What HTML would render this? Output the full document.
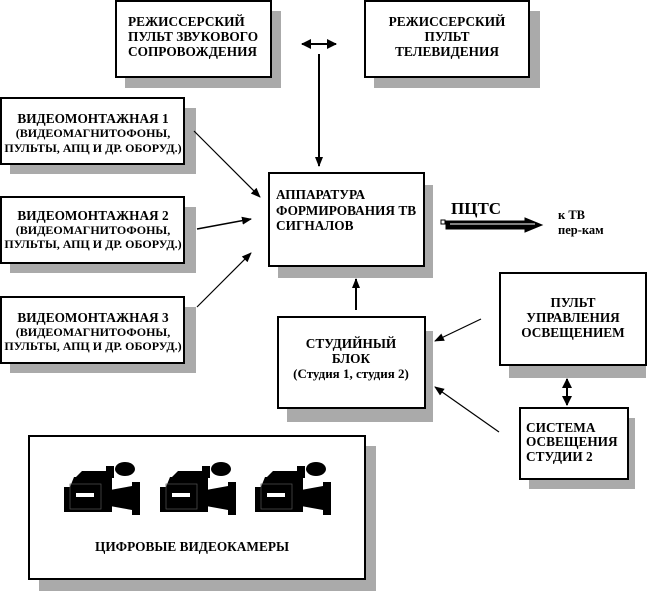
<!DOCTYPE html>
<html><head><meta charset="utf-8"><style>
html,body{margin:0;padding:0;background:#fff;}
svg text{font-family:"Liberation Serif","Noto Serif CJK SC",serif;font-weight:bold;font-size:13.3px;fill:#000;}
</style></head><body>
<svg width="656" height="591" viewBox="0 0 656 591" xmlns="http://www.w3.org/2000/svg">
<defs>
<marker id="ah" markerWidth="10" markerHeight="10" refX="9" refY="5" orient="auto" markerUnits="userSpaceOnUse">
<path d="M0,1 L10,5 L0,9 Z" fill="#000"/></marker>
<marker id="ah2" markerWidth="10" markerHeight="10" refX="9" refY="5" orient="auto-start-reverse" markerUnits="userSpaceOnUse">
<path d="M0,0 L10,5 L0,10 Z" fill="#000"/></marker>
<g id="cam">
<path d="M12,17 L50,17 L50,52 L2,52 L2,27 L8,27 Z" fill="#000"/>
<path d="M14,17 L20,11 L48,11 L50,17 Z" fill="#000"/>
<rect x="44" y="6" width="8" height="12" fill="#000"/>
<ellipse cx="63" cy="9" rx="10" ry="7" fill="#000"/>
<path d="M48,30 L70,26 L70,22 L78,22 L78,55 L70,55 L70,50 L48,46 Z" fill="#000"/>
<rect x="8" y="24" width="31" height="25" fill="none" stroke="#555" stroke-width="0.7"/>
<rect x="14" y="33" width="18" height="4" fill="#fff"/>
</g>
</defs>
<g fill="#aaa">
<rect x="125" y="11" width="156" height="77"/>
<rect x="374" y="11" width="166" height="77"/>
<rect x="10" y="108" width="186" height="66"/>
<rect x="10" y="207" width="186" height="66"/>
<rect x="10" y="307" width="186" height="66"/>
<rect x="278" y="185" width="155" height="93"/>
<rect x="287" y="331" width="146" height="91"/>
<rect x="509" y="283" width="137" height="95"/>
<rect x="529" y="418" width="106" height="71"/>
<rect x="39" y="446" width="337" height="145"/>
</g>
<g fill="#fff" stroke="#000" stroke-width="2">
<rect x="116" y="1" width="155" height="76"/>
<rect x="365" y="1" width="164" height="76"/>
<rect x="1" y="98" width="183" height="66"/>
<rect x="1" y="197" width="183" height="66"/>
<rect x="1" y="297" width="183" height="66"/>
<rect x="269" y="173" width="155" height="93"/>
<rect x="278" y="317" width="147" height="91"/>
<rect x="500" y="273" width="146" height="92"/>
<rect x="520" y="408" width="108" height="71"/>
<rect x="29" y="436" width="336" height="143"/>
</g>
<text x="128" y="26">РЕЖИССЕРСКИЙ</text>
<text x="128" y="41">ПУЛЬТ ЗВУКОВОГО</text>
<text x="128" y="56">СОПРОВОЖДЕНИЯ</text>
<g text-anchor="middle">
<text x="447" y="26">РЕЖИССЕРСКИЙ</text>
<text x="447" y="41">ПУЛЬТ</text>
<text x="447" y="56">ТЕЛЕВИДЕНИЯ</text>
<text x="93" y="123">ВИДЕОМОНТАЖНАЯ 1</text>
<text x="93" y="137" style="font-size:12px">(ВИДЕОМАГНИТОФОНЫ,</text>
<text x="93" y="152" style="font-size:12px">ПУЛЬТЫ, АПЦ И ДР. ОБОРУД.)</text>
<text x="93" y="220">ВИДЕОМОНТАЖНАЯ 2</text>
<text x="93" y="234" style="font-size:12px">(ВИДЕОМАГНИТОФОНЫ,</text>
<text x="93" y="248" style="font-size:12px">ПУЛЬТЫ, АПЦ И ДР. ОБОРУД.)</text>
<text x="93" y="322">ВИДЕОМОНТАЖНАЯ 3</text>
<text x="93" y="336" style="font-size:12px">(ВИДЕОМАГНИТОФОНЫ,</text>
<text x="93" y="350" style="font-size:12px">ПУЛЬТЫ, АПЦ И ДР. ОБОРУД.)</text>
<text x="351" y="348">СТУДИЙНЫЙ</text>
<text x="351" y="363">БЛОК</text>
<text x="351" y="378" style="font-size:13px">(Студия 1, студия 2)</text>
<text x="573" y="307">ПУЛЬТ</text>
<text x="573" y="322">УПРАВЛЕНИЯ</text>
<text x="573" y="337">ОСВЕЩЕНИЕМ</text>
<text x="192" y="551">ЦИФРОВЫЕ ВИДЕОКАМЕРЫ</text>
</g>
<text x="276" y="199">АППАРАТУРА</text>
<text x="276" y="215">ФОРМИРОВАНИЯ ТВ</text>
<text x="276" y="230">СИГНАЛОВ</text>
<text x="526" y="432">СИСТЕМА</text>
<text x="526" y="446">ОСВЕЩЕНИЯ</text>
<text x="526" y="461">СТУДИИ 2</text>
<text x="451" y="214" style="font-size:17px">ПЦТС</text>
<text x="558" y="219" style="font-size:12.5px">к ТВ</text>
<text x="558" y="234" style="font-size:12.5px">пер-кам</text>
<g stroke="#000" fill="none">
<line x1="302" y1="44" x2="336" y2="44" stroke-width="2" marker-start="url(#ah2)" marker-end="url(#ah2)"/>
<line x1="319" y1="54" x2="319" y2="166" stroke-width="2" marker-end="url(#ah)"/>
<line x1="194" y1="131" x2="260" y2="197" stroke-width="1.2" marker-end="url(#ah)"/>
<line x1="197" y1="229" x2="251" y2="219" stroke-width="1.5" marker-end="url(#ah)"/>
<line x1="197" y1="307" x2="251" y2="253" stroke-width="1.2" marker-end="url(#ah)"/>
<line x1="356" y1="310" x2="356" y2="279" stroke-width="2" marker-end="url(#ah)"/>
<line x1="481" y1="319" x2="435" y2="341" stroke-width="1.2" marker-end="url(#ah)"/>
<line x1="499" y1="432" x2="435" y2="387" stroke-width="1.2" marker-end="url(#ah)"/>
<line x1="567" y1="379" x2="567" y2="405" stroke-width="2" marker-start="url(#ah2)" marker-end="url(#ah2)"/>
</g>
<path d="M446,221 L525,221 L525,218 L542,225 L525,232 L525,229 L446,229 Z" fill="#000" stroke="#000" stroke-width="1"/>
<rect x="441" y="220" width="4" height="4" fill="none" stroke="#000" stroke-width="1"/>
<line x1="450" y1="224" x2="535" y2="224" stroke="#fff" stroke-width="1"/>
<use href="#cam" x="62" y="460"/>
<use href="#cam" x="158" y="460"/>
<use href="#cam" x="253" y="460"/>
</svg>
</body></html>
